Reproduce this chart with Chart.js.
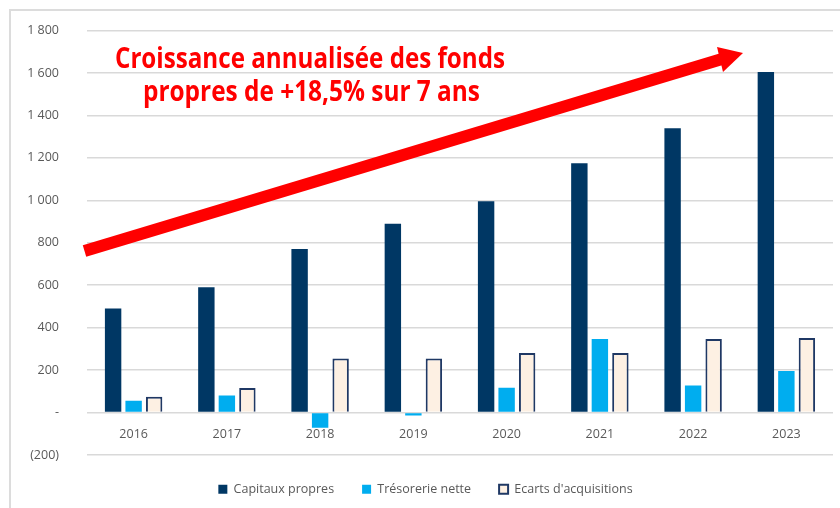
<!DOCTYPE html>
<html>
<head>
<meta charset="utf-8">
<script src="https://cdn.jsdelivr.net/npm/chart.js@4"></script>
<style>
  body { margin: 0; background: #fff; }
  #wrap { position: relative; width: 840px; height: 508px; overflow: hidden; }
  #myChart { position: absolute; left: 0; top: -5px; }
  #frame { position: absolute; left: 9px; top: 9px; right: 0; bottom: 0; border-left: 2px solid #dcdcdc; border-top: 2px solid #dcdcdc; pointer-events: none; }
</style>
</head>
<body>
<div id="wrap">
  <canvas id="myChart" width="840" height="513"></canvas>
  <div id="frame"></div>
</div>
<script>
const years = ['2016', '2017', '2018', '2019', '2020', '2021', '2022', '2023'];
const capitauxPropres = [490, 590, 770, 890, 995, 1175, 1340, 1605];
const tresorerieNette = [56, 80, -72, -14, 117, 347, 127, 196];
const ecartsAcquisitions = [74, 116, 255, 255, 280, 280, 346, 351];
const yTicks = [-200, 0, 200, 400, 600, 800, 1000, 1200, 1400, 1600, 1800];
const annotationLines = ['Croissance annualisée des fonds', 'propres de +18,5% sur 7 ans'];

const grey = '#595959';
const tickFont = { family: "'Open Sans', 'Noto Sans', sans-serif", size: 12.5 };
const dy = 5; // canvas sits 5px above the page top

const formatTick = (v) => {
  if (v === 0) return '-';
  const s = Math.abs(v).toString().replace(/\B(?=(\d{3})+(?!\d))/g, ' ');
  return v < 0 ? '(' + s + ')' : s;
};

// arrow + red text drawn on top of the chart
const annotation = {
  id: 'annotation',
  afterDraw(chart) {
    const ctx = chart.ctx;
    ctx.save();
    ctx.translate(0, dy);
    ctx.fillStyle = '#ff0000';

    // arrow shaft
    const x0 = 84.5, y0 = 251, x1 = 722, y1 = 59;
    const ang = Math.atan2(y1 - y0, x1 - x0);
    const nx = -Math.sin(ang) * 6, ny = Math.cos(ang) * 6;
    ctx.beginPath();
    ctx.moveTo(x0 + nx, y0 + ny);
    ctx.lineTo(x1 + nx, y1 + ny);
    ctx.lineTo(x1 - nx, y1 - ny);
    ctx.lineTo(x0 - nx, y0 - ny);
    ctx.closePath();
    ctx.fill();
    // arrow head
    ctx.beginPath();
    ctx.moveTo(743, 53);
    ctx.lineTo(717, 47);
    ctx.lineTo(723, 72);
    ctx.closePath();
    ctx.fill();

    // text, squeezed to the reference widths
    ctx.font = "bold 28px 'Liberation Sans Narrow', 'Open Sans', 'Liberation Sans', sans-serif";
    ctx.textBaseline = 'alphabetic';
    ctx.textAlign = 'center';
    const targets = [[310, 68, 390], [311.5, 101, 337]];
    annotationLines.forEach((line, i) => {
      const [cx, by, w] = targets[i];
      const mw = ctx.measureText(line).width;
      ctx.save();
      ctx.translate(cx, by);
      ctx.scale(w / mw, 1);
      ctx.fillText(line, 0, 0);
      ctx.restore();
    });
    ctx.restore();
  }
};

// legend gets a fixed height so the plot bottom sits on the -200 line
const legendHeight = {
  id: 'legendHeight',
  beforeInit(chart) {
    const fit = chart.legend.fit;
    chart.legend.fit = function () {
      fit.bind(chart.legend)();
      this.height = 53;
    };
  }
};

const ctx = document.getElementById('myChart').getContext('2d');
new Chart(ctx, {
  type: 'bar',
  data: {
    labels: years,
    datasets: [
      { label: 'Capitaux propres', data: capitauxPropres, backgroundColor: '#003764', borderWidth: 0 },
      { label: 'Trésorerie nette', data: tresorerieNette, backgroundColor: '#00adef', borderWidth: 0 },
      { label: "Ecarts d'acquisitions", data: ecartsAcquisitions, backgroundColor: '#fdf0e3', borderColor: '#1f3864', borderWidth: 2 }
    ]
  },
  options: {
    responsive: false,
    animation: false,
    layout: { padding: { left: 18, right: 7, top: 23, bottom: 0 } },
    datasets: { bar: { categoryPercentage: 0.66, barPercentage: 0.8 } },
    scales: {
      x: {
        position: { y: 0 },
        grid: { display: false, drawTicks: false },
        border: { display: false },
        ticks: { color: grey, font: tickFont, padding: 14 }
      },
      y: {
        min: -200,
        max: 1800,
        afterBuildTicks(scale) {
          scale.ticks = yTicks.map(v => ({ value: v }));
        },
        afterFit(scale) {
          scale.width = 69;
        },
        grid: { color: '#d9d9d9', lineWidth: 1.5, drawTicks: false },
        border: { display: false },
        ticks: { color: grey, font: tickFont, padding: 28, callback: formatTick }
      }
    },
    plugins: {
      legend: {
        position: 'bottom',
        labels: { boxWidth: 9, boxHeight: 9, padding: 28, color: grey, font: tickFont }
      },
      tooltip: { enabled: false }
    }
  },
  plugins: [annotation, legendHeight]
});
</script>
</body>
</html>
